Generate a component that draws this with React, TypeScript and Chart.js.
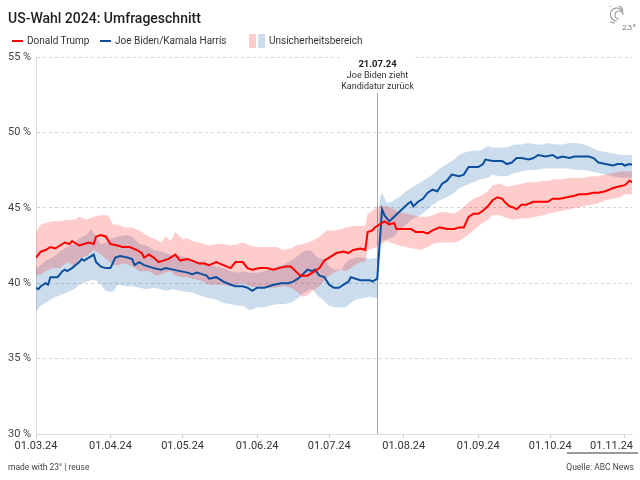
import React, { useEffect, useRef } from "react";
import { Chart, registerables } from "chart.js";

Chart.register(...registerables);

// ---- Data (day index counted from 01.03.24) ----
const monthTickDays = [0, 31, 61, 92, 122, 153, 184, 214, 245];
const monthTickLabels = ["01.03.24", "01.04.24", "01.05.24", "01.06.24", "01.07.24", "01.08.24", "01.09.24", "01.10.24", "01.11.24"];
const yTickValues = [30, 35, 40, 45, 50, 55];
const annotationDay = 142;
const annotationDate = "21.07.24";
const annotationLines = ["Joe Biden zieht", "Kandidatur zurück"];

const trumpDays = [0, 2, 4, 6, 8, 10, 12, 14, 15, 18, 20, 22, 24, 25, 27, 29, 31, 34, 36, 39, 42, 44, 45, 47, 49, 51, 53, 55, 58, 60, 63, 65, 68, 70, 72, 75, 78, 81, 83, 86, 88, 90, 93, 96, 99, 101, 104, 106, 108, 110, 113, 115, 118, 120, 122, 125, 128, 130, 132, 135, 137, 138, 140, 141, 143, 145, 147, 149, 150, 153, 156, 158, 161, 163, 165, 168, 171, 174, 176, 178, 180, 182, 184, 186, 188, 190, 192, 194, 195, 197, 199, 200, 202, 204, 207, 210, 213, 215, 218, 221, 224, 226, 229, 232, 234, 237, 240, 242, 245, 247, 248];
const trumpValues = [41.7, 42.1, 42.2, 42.4, 42.3, 42.5, 42.7, 42.6, 42.8, 42.5, 42.6, 42.7, 42.6, 43.1, 43.2, 43.1, 42.6, 42.5, 42.4, 42.4, 42.2, 42.0, 41.7, 41.9, 41.7, 41.4, 41.5, 41.6, 41.9, 41.5, 41.6, 41.5, 41.3, 41.3, 41.2, 41.4, 41.2, 41.0, 41.4, 41.4, 41.0, 40.9, 41.0, 41.0, 40.9, 41.0, 41.1, 41.1, 40.8, 40.5, 40.5, 40.7, 41.0, 41.5, 41.7, 42.0, 42.1, 42.0, 42.2, 42.3, 42.2, 43.4, 43.5, 43.7, 43.9, 44.1, 43.9, 44.0, 43.6, 43.6, 43.6, 43.4, 43.4, 43.3, 43.5, 43.7, 43.6, 43.6, 43.7, 43.7, 44.4, 44.6, 44.6, 44.8, 45.1, 45.5, 45.7, 45.6, 45.4, 45.1, 45.0, 44.9, 45.2, 45.2, 45.4, 45.4, 45.4, 45.6, 45.6, 45.7, 45.8, 45.9, 45.9, 46.0, 46.0, 46.1, 46.3, 46.4, 46.5, 46.8, 46.7];

const bidenDays = [0, 1, 2, 4, 5, 6, 7, 9, 11, 12, 13, 15, 18, 19, 20, 22, 24, 25, 27, 29, 31, 33, 35, 38, 40, 41, 43, 45, 47, 49, 52, 54, 57, 60, 63, 65, 67, 69, 71, 72, 75, 78, 81, 83, 86, 88, 90, 92, 95, 97, 99, 102, 105, 107, 109, 111, 113, 115, 116, 118, 120, 122, 124, 126, 128, 130, 131, 133, 135, 137, 139, 140, 142, 144, 145, 146, 147, 149, 151, 153, 155, 156, 157, 159, 161, 163, 165, 167, 169, 171, 173, 176, 178, 180, 182, 184, 186, 187, 190, 192, 194, 196, 198, 200, 202, 205, 207, 209, 212, 215, 217, 219, 222, 224, 227, 230, 232, 234, 237, 240, 242, 244, 245, 247, 248];
const bidenValues = [39.7, 39.6, 39.8, 40.0, 39.9, 40.4, 40.4, 40.4, 40.8, 40.9, 40.8, 41.0, 41.4, 41.6, 41.5, 41.7, 41.9, 41.4, 41.1, 41.0, 41.0, 41.7, 41.8, 41.7, 41.6, 41.2, 41.4, 41.2, 41.1, 41.0, 40.9, 41.0, 40.9, 40.8, 40.7, 40.6, 40.7, 40.6, 40.5, 40.3, 40.4, 40.1, 39.9, 39.8, 39.8, 39.7, 39.5, 39.7, 39.7, 39.8, 39.9, 40.0, 40.0, 40.1, 40.3, 40.6, 40.9, 40.8, 40.9, 40.5, 40.4, 39.9, 39.7, 39.7, 39.9, 40.1, 40.4, 40.3, 40.2, 40.2, 40.2, 40.1, 40.3, 44.9, 44.5, 44.3, 44.1, 44.4, 44.7, 45.0, 45.3, 45.4, 45.1, 45.4, 45.6, 46.0, 46.2, 46.1, 46.6, 46.8, 47.2, 47.1, 47.2, 47.7, 47.7, 47.7, 47.9, 48.2, 48.1, 48.1, 48.1, 47.9, 48.0, 48.3, 48.3, 48.2, 48.3, 48.5, 48.4, 48.5, 48.3, 48.4, 48.3, 48.4, 48.4, 48.4, 48.3, 48.0, 47.9, 47.8, 47.9, 47.9, 47.8, 47.9, 47.85];

const trumpBandDays = [0, 2, 4, 7, 10, 13, 16, 18, 21, 24, 27, 30, 32, 34, 37, 40, 43, 45, 47, 50, 52, 54, 56, 58, 61, 63, 65, 68, 72, 75, 78, 81, 84, 86, 89, 92, 95, 97, 100, 103, 106, 108, 111, 113, 115, 118, 121, 124, 127, 129, 132, 135, 137, 138, 140, 142, 146, 149, 151, 154, 157, 160, 163, 165, 168, 171, 174, 176, 179, 182, 185, 188, 190, 193, 196, 199, 202, 205, 208, 211, 213, 216, 219, 222, 225, 228, 231, 234, 237, 240, 243, 245, 248];
const trumpUpper = [43.4, 43.9, 44.0, 44.1, 44.1, 44.2, 44.2, 44.4, 44.2, 44.4, 44.5, 44.5, 43.9, 43.9, 43.7, 43.7, 43.5, 43.3, 43.1, 42.9, 42.7, 43.1, 42.8, 43.4, 42.9, 43.0, 42.8, 42.7, 42.5, 42.6, 42.6, 42.5, 42.6, 42.7, 42.5, 42.4, 42.4, 42.4, 42.4, 42.2, 42.3, 42.5, 42.6, 42.7, 42.8, 43.1, 43.5, 43.5, 43.6, 43.7, 43.8, 43.8, 43.8, 44.6, 44.8, 45.1, 45.1, 44.9, 44.7, 44.6, 44.5, 44.4, 44.4, 44.5, 44.7, 44.7, 44.6, 44.8, 45.2, 45.6, 45.8, 46.1, 46.5, 46.6, 46.4, 46.5, 46.6, 46.7, 46.7, 46.8, 46.8, 46.9, 46.9, 47.0, 47.0, 47.0, 47.1, 47.1, 47.2, 47.3, 47.4, 47.4, 47.4];
const trumpLower = [40.5, 40.6, 40.8, 41.0, 41.0, 41.4, 41.1, 41.6, 41.8, 42.2, 41.9, 41.5, 41.2, 41.2, 41.3, 41.1, 40.8, 40.8, 40.8, 40.5, 40.6, 40.7, 40.8, 40.5, 40.4, 40.4, 40.3, 40.2, 39.9, 39.9, 39.9, 39.8, 39.9, 40.0, 39.8, 39.7, 39.8, 39.7, 39.7, 39.8, 39.7, 39.5, 39.1, 39.2, 39.5, 39.8, 40.4, 40.7, 40.9, 40.8, 41.1, 41.4, 41.4, 42.2, 42.3, 42.4, 42.8, 42.6, 42.5, 42.4, 42.3, 42.2, 42.4, 42.6, 42.7, 42.7, 42.7, 42.8, 43.1, 43.5, 43.9, 44.2, 44.5, 44.5, 44.3, 44.2, 44.3, 44.3, 44.4, 44.5, 44.6, 44.7, 44.8, 44.9, 45.0, 45.1, 45.2, 45.3, 45.5, 45.6, 45.7, 45.9, 45.9];

const bidenBandDays = [0, 2, 4, 7, 10, 13, 16, 18, 21, 23, 25, 27, 29, 32, 34, 38, 40, 43, 46, 49, 52, 54, 57, 60, 63, 65, 68, 70, 72, 75, 78, 81, 84, 86, 89, 92, 95, 97, 100, 103, 106, 109, 111, 113, 115, 117, 120, 122, 124, 127, 129, 131, 133, 136, 139, 142, 143, 144, 146, 149, 151, 154, 157, 160, 163, 165, 168, 171, 174, 176, 179, 182, 185, 188, 190, 193, 196, 199, 202, 205, 208, 211, 213, 216, 219, 222, 225, 228, 231, 234, 237, 240, 243, 245, 248];
const bidenUpper = [41.0, 41.2, 41.5, 41.7, 42.1, 42.4, 42.6, 43.0, 43.2, 43.6, 43.1, 42.6, 42.7, 43.0, 43.1, 43.2, 43.1, 42.6, 42.5, 42.2, 42.1, 42.0, 41.8, 41.8, 41.7, 41.5, 41.4, 41.5, 41.2, 41.1, 41.0, 40.8, 40.7, 40.8, 40.7, 40.7, 40.8, 40.9, 41.1, 41.2, 41.5, 41.8, 42.1, 42.2, 42.1, 41.7, 41.6, 41.1, 40.9, 40.9, 41.4, 41.6, 41.7, 41.7, 41.6, 41.7, 45.6, 46.0, 45.3, 45.5, 45.7, 46.1, 46.4, 46.7, 47.0, 47.2, 47.6, 47.9, 48.2, 48.5, 48.7, 48.8, 48.8, 49.1, 49.0, 49.0, 49.0, 49.2, 49.2, 49.3, 49.2, 49.2, 49.3, 49.2, 49.2, 49.3, 49.3, 49.2, 49.0, 48.8, 48.7, 48.6, 48.5, 48.5, 48.5];
const bidenLower = [38.1, 38.5, 38.7, 39.0, 39.2, 39.4, 39.6, 39.9, 40.1, 40.2, 40.2, 39.9, 39.5, 39.4, 39.9, 39.8, 39.8, 39.7, 39.6, 39.7, 39.6, 39.5, 39.6, 39.5, 39.4, 39.4, 39.2, 39.1, 39.0, 38.9, 38.7, 38.6, 38.5, 38.5, 38.2, 38.4, 38.4, 38.5, 38.6, 38.6, 38.7, 39.0, 39.3, 39.5, 39.6, 39.2, 38.8, 38.5, 38.4, 38.4, 38.4, 38.7, 38.9, 39.0, 39.1, 39.0, 42.6, 42.8, 42.9, 43.1, 43.5, 43.9, 44.3, 44.5, 44.9, 45.2, 45.5, 45.7, 46.0, 46.3, 46.5, 46.7, 46.9, 47.0, 47.2, 47.1, 47.1, 47.3, 47.4, 47.5, 47.5, 47.6, 47.6, 47.6, 47.6, 47.6, 47.5, 47.5, 47.4, 47.3, 47.2, 47.1, 47.0, 47.0, 47.0];

const TRUMP_RED = "#ff0000";
const BIDEN_BLUE = "#0c4f9e";
const TRUMP_BAND = "rgba(255,0,0,0.2)";
const BIDEN_BAND = "rgba(20,100,170,0.22)";
const FONT = "Roboto, 'Noto Sans', sans-serif";

function pts(days: number[], vals: number[]) {
  return days.map((d, i) => ({ x: d, y: vals[i] }));
}

const xLabelPlugin = {
  id: "xLabels",
  afterDraw(chart: any) {
    const { ctx, scales, chartArea } = chart;
    const x = scales.x;
    ctx.save();
    ctx.font = `11px ${FONT}`;
    ctx.fillStyle = "#333";
    ctx.textBaseline = "middle";
    ctx.textAlign = "left";
    monthTickDays.forEach((d, i) => {
      const label = monthTickLabels[i];
      const w = ctx.measureText(label).width;
      let left = x.getPixelForValue(d) - w / 2;
      const maxRight = chart.width - 7;
      if (left + w > maxRight) left = maxRight - w;
      ctx.fillText(label, left, chartArea.bottom + 12);
    });
    ctx.restore();
  },
};

const annotationPlugin = {
  id: "annot",
  beforeDatasetsDraw(chart: any) {
    const { ctx, scales, chartArea } = chart;
    const px = Math.round(scales.x.getPixelForValue(annotationDay)) + 0.5;
    ctx.save();
    ctx.fillStyle = "#fff";
    ctx.fillRect(px - 38, chartArea.top - 6, 76, 40);
    ctx.strokeStyle = "#a8a8a8";
    ctx.lineWidth = 1;
    ctx.beginPath();
    ctx.moveTo(px, chartArea.top + 36);
    ctx.lineTo(px, chartArea.bottom);
    ctx.stroke();
    ctx.textAlign = "center";
    ctx.textBaseline = "middle";
    ctx.fillStyle = "#222";
    ctx.font = `bold 9.5px ${FONT}`;
    ctx.fillText(annotationDate, px, chartArea.top + 8);
    ctx.font = `9px ${FONT}`;
    ctx.fillStyle = "#333";
    annotationLines.forEach((t, i) => ctx.fillText(t, px, chartArea.top + 19 + i * 11));
    ctx.restore();
  },
};

function ChartCanvas() {
  const ref = useRef<HTMLCanvasElement | null>(null);
  useEffect(() => {
    if (!ref.current) return;
    const chart = new Chart(ref.current, {
      type: "line",
      data: {
        datasets: [
          { label: "Donald Trump", data: pts(trumpDays, trumpValues), borderColor: TRUMP_RED, borderWidth: 2, pointRadius: 0, fill: false, order: 0 },
          { label: "Joe Biden/Kamala Harris", data: pts(bidenDays, bidenValues), borderColor: BIDEN_BLUE, borderWidth: 2, pointRadius: 0, fill: false, order: 0 },
          { label: "tu", data: pts(trumpBandDays, trumpUpper), borderWidth: 0, borderColor: "rgba(0,0,0,0)", backgroundColor: TRUMP_BAND, pointRadius: 0, fill: "+1", order: 1 },
          { label: "tl", data: pts(trumpBandDays, trumpLower), borderWidth: 0, borderColor: "rgba(0,0,0,0)", pointRadius: 0, fill: false, order: 1 },
          { label: "bu", data: pts(bidenBandDays, bidenUpper), borderWidth: 0, borderColor: "rgba(0,0,0,0)", backgroundColor: BIDEN_BAND, pointRadius: 0, fill: "+1", order: 2 },
          { label: "bl", data: pts(bidenBandDays, bidenLower), borderWidth: 0, borderColor: "rgba(0,0,0,0)", pointRadius: 0, fill: false, order: 2 },
        ] as any,
      },
      options: {
        animation: false,
        responsive: false,
        maintainAspectRatio: false,
        events: [],
        layout: { padding: { left: 8, right: 8, top: 57, bottom: 0 } },
        plugins: { legend: { display: false }, tooltip: { enabled: false } },
        elements: { line: { tension: 0 } },
        scales: {
          x: {
            type: "linear",
            min: 0,
            max: 248,
            afterBuildTicks: (s: any) => {
              s.ticks = monthTickDays.map((v) => ({ value: v }));
            },
            afterFit: (s: any) => {
              s.height = 46;
            },
            ticks: { display: false },
            grid: { drawOnChartArea: false, drawTicks: true, tickLength: 4, color: "#c8c8c8" },
            border: { display: true, color: "#dcdcdc" },
          },
          y: {
            min: 30,
            max: 55,
            afterBuildTicks: (s: any) => {
              s.ticks = yTickValues.map((v) => ({ value: v }));
            },
            afterFit: (s: any) => {
              s.width = 28;
            },
            ticks: {
              callback: (v: any) => `${v} %`,
              font: { size: 11, family: FONT },
              color: "#444",
              crossAlign: "far",
              padding: 0,
            },
            grid: { color: "#d2d2d2", drawTicks: false, lineWidth: 1 },
            border: { display: true, color: "#dcdcdc", dash: [3, 3] },
          },
        },
      } as any,
      plugins: [annotationPlugin, xLabelPlugin],
    });
    return () => chart.destroy();
  }, []);
  return <canvas ref={ref} width={640} height={480} style={{ position: "absolute", left: 0, top: 0, width: 640, height: 480 }} />;
}

const abs = (s: React.CSSProperties): React.CSSProperties => ({ position: "absolute", whiteSpace: "nowrap", fontFamily: FONT, ...s });

export default function App() {
  return (
    <div style={{ position: "fixed", left: 0, top: 0, width: 640, height: 480, background: "#fff", overflow: "hidden" }}>
      <ChartCanvas />
      <div style={abs({ left: 8, top: 8, fontSize: 14, fontWeight: 500, color: "#1e1e1e", lineHeight: "20px" })}>US-Wahl 2024: Umfrageschnitt</div>
      <svg style={{ position: "absolute", left: 610, top: 6 }} width="26" height="26" viewBox="0 0 26 26">
        <path d="M13 4 A9 9 0 1 0 5 17" fill="none" stroke="#9a9a9a" strokeWidth="1.2" />
        <path d="M13 6.5 A6.5 6.5 0 1 0 7 15" fill="none" stroke="#9a9a9a" strokeWidth="1.2" />
        <path d="M13 9 A4 4 0 1 0 9 13" fill="none" stroke="#9a9a9a" strokeWidth="1.2" />
        <text x="12" y="24" fontSize="8" fill="#666" fontFamily="DejaVu Serif, serif">23°</text>
      </svg>
      {/* legend */}
      <div style={abs({ left: 12, top: 40, width: 11, height: 2, background: TRUMP_RED })} />
      <div style={abs({ left: 27, top: 34, fontSize: 10, color: "#333", lineHeight: "14px" })}>Donald Trump</div>
      <div style={abs({ left: 100, top: 40, width: 11, height: 2, background: BIDEN_BLUE })} />
      <div style={abs({ left: 115, top: 34, fontSize: 10, color: "#333", lineHeight: "14px" })}>Joe Biden/Kamala Harris</div>
      <div style={abs({ left: 249, top: 34, width: 7, height: 14, background: "#ffcccc" })} />
      <div style={abs({ left: 258, top: 34, width: 7, height: 14, background: "#cbdcec" })} />
      <div style={abs({ left: 269, top: 34, fontSize: 10, color: "#333", lineHeight: "14px" })}>Unsicherheitsbereich</div>
      {/* footer */}
      <div style={abs({ left: 567, top: 452, width: 71, height: 2, background: "#9a9a9a" })} />
      <div style={abs({ left: 8, top: 461, fontSize: 8.5, color: "#444", lineHeight: "12px" })}>made with 23° | reuse</div>
      <div style={abs({ right: 6, top: 461, fontSize: 8.5, color: "#444", lineHeight: "12px" })}>Quelle: ABC News</div>
    </div>
  );
}
